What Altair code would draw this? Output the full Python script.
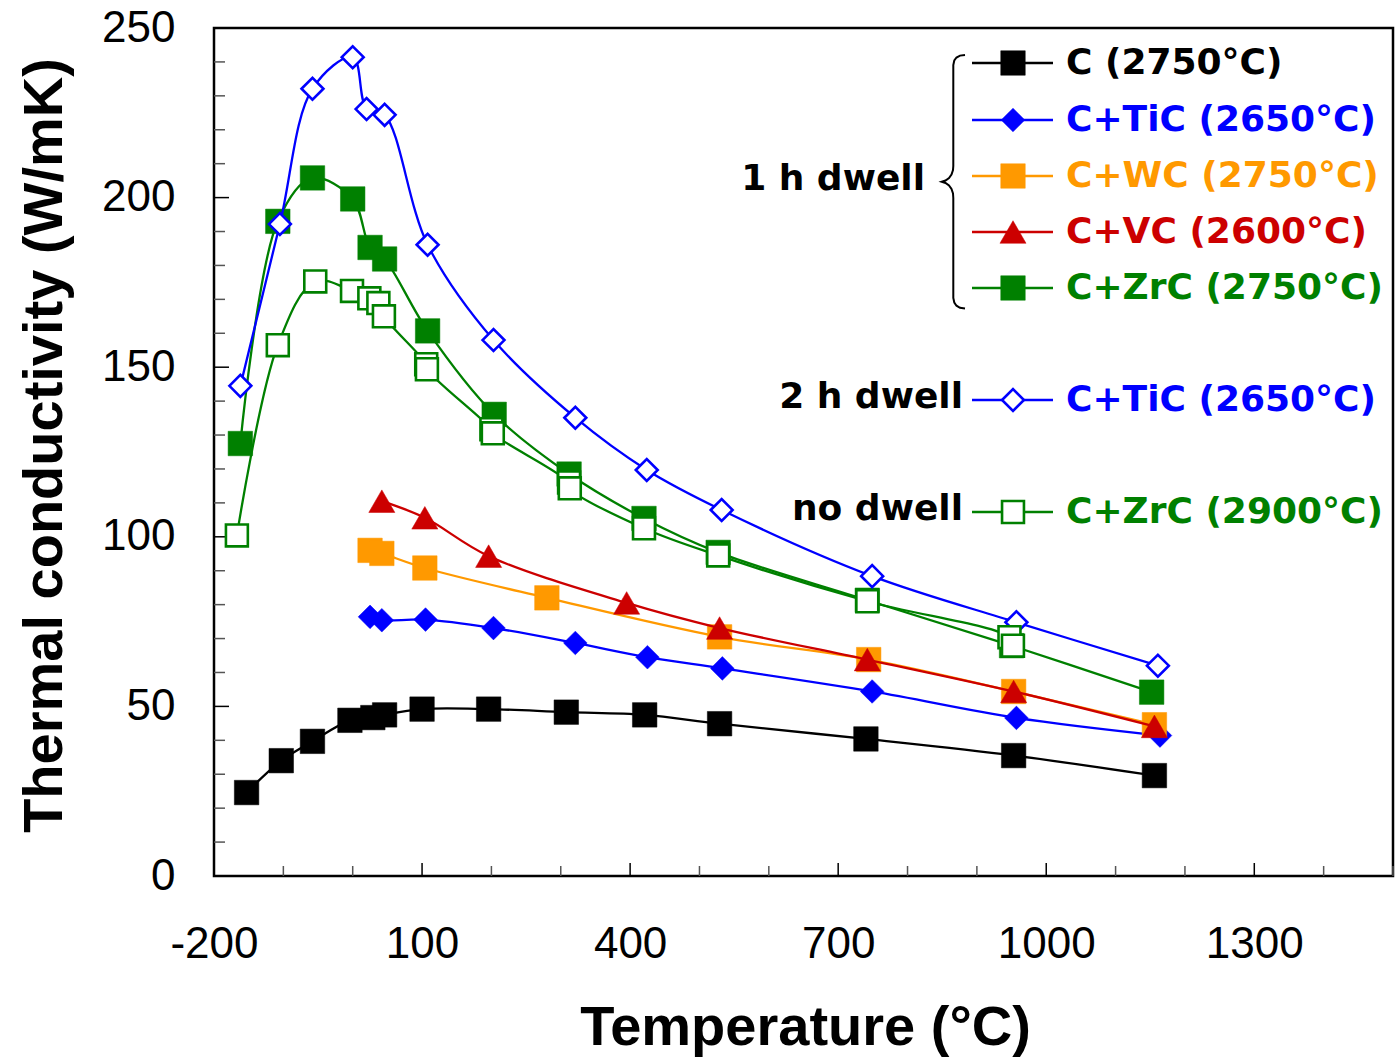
import altair as alt
import pandas as pd

# ---------------- data ----------------
c_t = [-153, -103, -58, -4, 29, 46, 100, 196, 308, 421, 529, 740, 953, 1156]
c_k = [24.6, 34.0, 39.7, 45.9, 46.7, 47.5, 49.2, 49.2, 48.3, 47.5, 44.9, 40.4, 35.5, 29.6]

tic_t = [25, 42, 105, 203, 321, 425, 533, 749, 957, 1164]
tic_k = [76.4, 75.4, 75.6, 73.1, 68.7, 64.5, 61.2, 54.4, 46.6, 41.4]

wc_t = [25, 42, 104, 280, 529, 744, 953, 1156]
wc_k = [96.0, 95.1, 90.8, 82.0, 70.5, 63.8, 54.4, 44.6]

vc_t = [42, 104, 196, 395, 529, 742, 953, 1156]
vc_k = [110.5, 105.6, 94.3, 80.5, 73.1, 63.8, 54.4, 44.1]

zrc_t = [-162, -108, -58, 0, 25, 46, 108, 204, 312, 420, 527, 742, 950, 1152]
zrc_k = [127.5, 193.0, 205.8, 199.6, 185.3, 181.9, 160.7, 136.1, 118.5, 105.4, 95.4, 81.3, 67.9, 54.2]

tic2_t = [-162, -105, -58, 0, 20, 46, 108, 203, 321, 424, 532, 749, 957, 1161]
tic2_k = [144.5, 192.2, 232.1, 241.4, 226.1, 224.4, 186.1, 158.0, 135.1, 119.7, 107.9, 88.4, 74.8, 62.0]

zrcnd_t = [-167, -108, -54, -1, 24, 37, 45, 106, 107, 200, 202, 312, 313, 420, 527, 742, 947, 952]
zrcnd_k = [100.4, 156.5, 175.3, 172.5, 170.3, 168.9, 165.0, 150.9, 149.4, 131.7, 130.5, 116.0, 114.3,
           102.5, 94.5, 81.0, 70.4, 67.9]

x_labels = [-200, 100, 400, 700, 1000, 1300]
y_labels = [0, 50, 100, 150, 200, 250]
x_minor = [v for v in range(-200, 1501, 100) if v not in x_labels]
y_minor = [v for v in range(0, 251, 10) if v not in y_labels]

# series: name, temps, values, colour, shape, filled, marker size, legend label, legend row y
series = [
    ("C", c_t, c_k, "#000000", "square", True, 600, "C (2750°C)", 35),
    ("C+TiC", tic_t, tic_k, "#0000FF", "diamond", True, 560, "C+TiC (2650°C)", 92),
    ("C+WC", wc_t, wc_k, "#FF9900", "square", True, 600, "C+WC (2750°C)", 148),
    ("C+VC", vc_t, vc_k, "#CC0000", "triangle-up", True, 680, "C+VC (2600°C)", 204),
    ("C+ZrC", zrc_t, zrc_k, "#008000", "square", True, 600, "C+ZrC (2750°C)", 260),
    ("C+TiC 2h", tic2_t, tic2_k, "#0000FF", "diamond", False, 480, "C+TiC (2650°C)", 372),
    ("C+ZrC no dwell", zrcnd_t, zrcnd_k, "#008000", "square", False, 480, "C+ZrC (2900°C)", 484),
]

group_labels = [("1 h dwell", 711, 151), ("2 h dwell", 749, 369), ("no dwell", 749, 481)]

brace_x = [751, 746, 742.5, 740.3, 739.3, 739.3, 739, 737.5, 735, 731.5, 727.7, 731.5, 735, 737.5, 739,
           739.3, 739.3, 740.3, 742.5, 746, 751]
brace_y = [27, 27.6, 29.5, 32.5, 37, 138, 142, 146.5, 150, 152.5, 153.7, 155, 157.5, 161, 165.5,
           170, 270, 274.5, 277.7, 279.8, 280.5]

W, H = 1179, 848
LABEL_FONT = "Liberation Sans"
LEG_FONT = "DejaVu Sans"

x_enc = alt.X(
    "t:Q",
    scale=alt.Scale(domain=[-200, 1500], nice=False, zero=False),
    axis=alt.Axis(
        values=x_labels, ticks=False, tickSize=0, domain=False, grid=False,
        labelExpr="'' + datum.value",
        labelFont=LABEL_FONT, labelFontSize=44, labelColor="black", labelPadding=46,
        labelFlush=False, labelOverlap=False,
        title="Temperature (°C)", titleFont=LABEL_FONT, titleFontSize=56, titleFontWeight="bold",
        titleColor="black", titleX=591, titleY=151, titleBaseline="middle", titleAnchor="middle",
    ),
)
y_enc = alt.Y(
    "k:Q",
    scale=alt.Scale(domain=[0, 250], nice=False, zero=False),
    axis=alt.Axis(
        values=y_labels, ticks=False, tickSize=0, domain=False, grid=False,
        labelFont=LABEL_FONT, labelFontSize=44, labelColor="black", labelPadding=39,
        labelFlush=False, labelOverlap=False,
        title="Thermal conductivity (W/mK)", titleFont=LABEL_FONT, titleFontSize=56,
        titleFontWeight="bold", titleColor="black", titleX=-170, titleY=417,
        titleBaseline="middle", titleAngle=270, titleAnchor="middle",
    ),
)

layers = []

# inward ticks
ytm = pd.DataFrame({"k": y_labels})
ytn = pd.DataFrame({"k": y_minor})
xtm = pd.DataFrame({"t": x_labels})
xtn = pd.DataFrame({"t": x_minor})
layers.append(alt.Chart(ytn).mark_rule(color="#555555", strokeWidth=1.5).encode(
    y=y_enc, x=alt.value(0), x2=alt.value(11)))
layers.append(alt.Chart(ytm).mark_rule(color="#000000", strokeWidth=1.5).encode(
    y=y_enc, x=alt.value(0), x2=alt.value(15)))
layers.append(alt.Chart(xtn).mark_rule(color="#555555", strokeWidth=1.5).encode(
    x=x_enc, y=alt.value(H), y2=alt.value(H - 10)))
layers.append(alt.Chart(xtm).mark_rule(color="#000000", strokeWidth=1.5).encode(
    x=x_enc, y=alt.value(H), y2=alt.value(H - 13)))

# data series
for name, ts, ks, col, shp, filled, sz, lab, ly in series:
    df = pd.DataFrame({"t": ts, "k": ks})
    base = alt.Chart(df)
    layers.append(base.mark_line(color=col, strokeWidth=2.3, interpolate="catmull-rom").encode(
        x=x_enc, y=y_enc))
    if filled:
        pm = base.mark_point(shape=shp, size=sz, filled=True, fill=col, stroke=col,
                             strokeWidth=0.5, opacity=1)
    else:
        pm = base.mark_point(shape=shp, size=sz, filled=True, fill="white", stroke=col,
                             strokeWidth=2.6, opacity=1)
    layers.append(pm.encode(x=x_enc, y=y_enc))

# hand-made legend
one = pd.DataFrame({"a": [0]})
for name, ts, ks, col, shp, filled, sz, lab, ly in series:
    layers.append(alt.Chart(one).mark_rule(color=col, strokeWidth=2.3).encode(
        x=alt.value(758), x2=alt.value(839), y=alt.value(ly)))
    if filled:
        pm = alt.Chart(one).mark_point(shape=shp, size=sz, filled=True, fill=col, stroke=col,
                                       strokeWidth=0.5, opacity=1)
    else:
        pm = alt.Chart(one).mark_point(shape=shp, size=sz, filled=True, fill="white", stroke=col,
                                       strokeWidth=2.6, opacity=1)
    layers.append(pm.encode(x=alt.value(799), y=alt.value(ly)))
    layers.append(alt.Chart(one).mark_text(
        text=lab, font=LEG_FONT, fontSize=36, fontWeight="bold", color=col,
        align="left", baseline="middle").encode(x=alt.value(852), y=alt.value(ly)))

for txt, gx, gy in group_labels:
    layers.append(alt.Chart(one).mark_text(
        text=txt, font=LEG_FONT, fontSize=36, fontWeight="bold", color="black",
        align="right", baseline="middle").encode(x=alt.value(gx), y=alt.value(gy)))

brace = pd.DataFrame({"bx": brace_x, "by": brace_y, "o": list(range(len(brace_x)))})
layers.append(alt.Chart(brace).mark_line(color="black", strokeWidth=2).encode(
    x=alt.X("bx:Q", scale=None, axis=None),
    y=alt.Y("by:Q", scale=None, axis=None),
    order="o:Q"))

chart = alt.layer(*layers).properties(
    width=W, height=H,
    autosize=alt.AutoSizeParams(type="none"),
    padding={"left": 214, "top": 28, "right": 4, "bottom": 188},
    background="white",
).configure_view(stroke="black", strokeWidth=2.5)

chart.save("out.html", embed_options={"renderer": "svg", "actions": False})
